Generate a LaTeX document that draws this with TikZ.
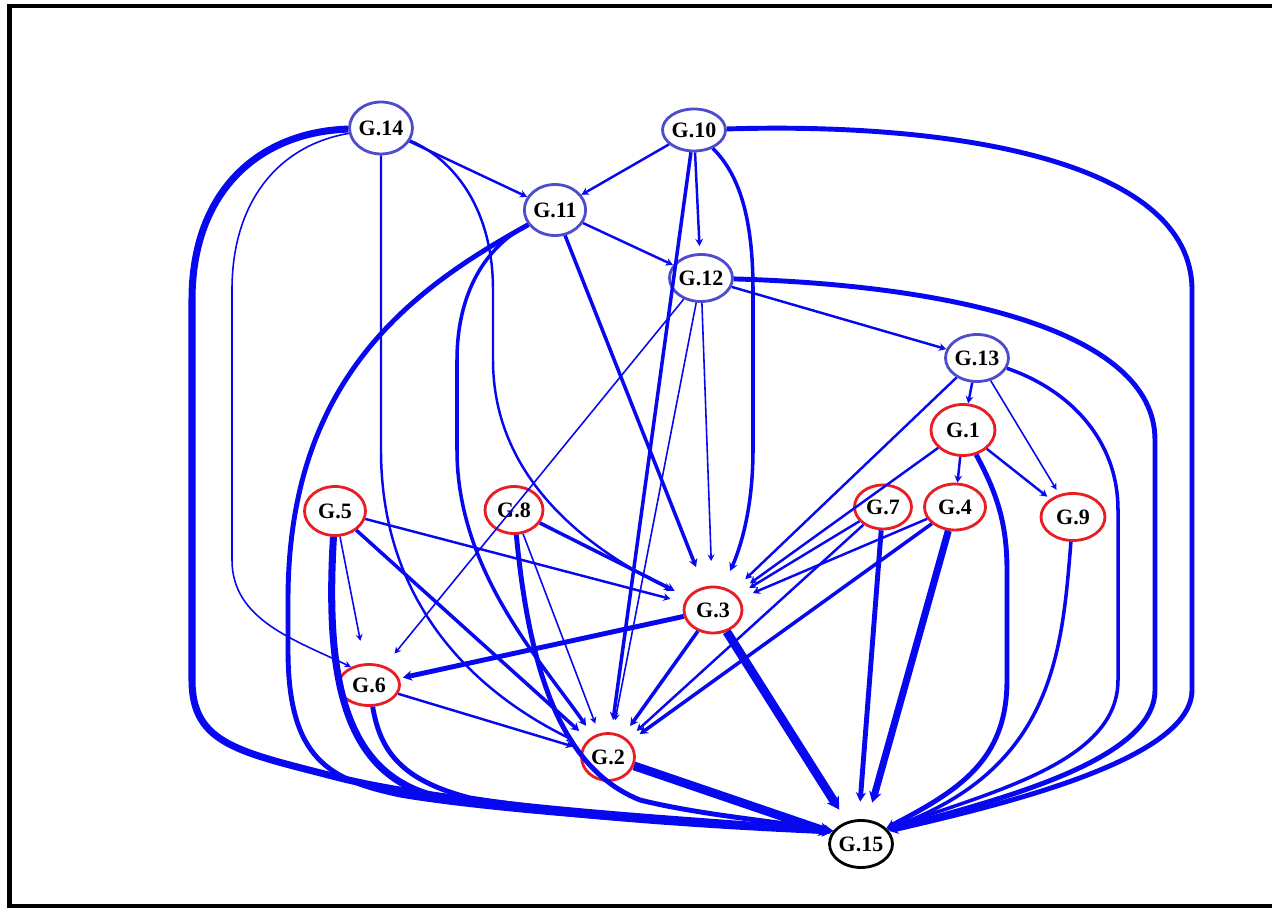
\documentclass[tikz,border=0pt]{standalone}
\usepackage{fontspec}
\setmainfont{Liberation Serif}
\usetikzlibrary{shapes.geometric,arrows.meta}
\definecolor{edgeblue}{RGB}{8,8,240}
\definecolor{slateblue}{RGB}{76,76,204}
\definecolor{genered}{RGB}{232,30,36}
\begin{document}
\begin{tikzpicture}[x=0.02cm,y=-0.02cm,
            gene/.style={ellipse,draw,line width=1.6pt,inner sep=0pt,font=\bfseries\fontsize{12.5}{14}\selectfont},
            upper/.style={gene,draw=slateblue},
            lower/.style={gene,draw=genered},
            sink/.style={gene,draw=black},
            link/.style={draw=edgeblue,-{Stealth[length=3pt 0.8,width=3pt 1]}},
            link1/.style={link,line width=0.9pt},
            link2/.style={link,line width=1.4pt},
            link3/.style={link,line width=2pt},
            link4/.style={link,line width=2.8pt},
            link5/.style={link,line width=4pt},
            link6/.style={link,line width=5pt}]
            \useasboundingbox (0,0) rectangle (1276,908);
            \draw [line width=2.6pt] (1272,6) -- (9.5,6) -- (9.5,906) -- (1272,906);

            % genes
            \node [upper,minimum width=1.1cm,minimum height=1.04cm] (g14) at (381,128) {G.14};
            \node [upper,minimum width=1.24cm,minimum height=0.84cm] (g10) at (694,130) {G.10};
            \node [upper,minimum width=1.08cm,minimum height=1.02cm] (g11) at (555,210) {G.11};
            \node [upper,minimum width=1.1cm,minimum height=0.94cm] (g12) at (701,278) {G.12};
            \node [upper,minimum width=1.16cm,minimum height=0.94cm] (g13) at (977,358) {G.13};
            \node [lower,minimum width=1.28cm,minimum height=1.02cm] (g1) at (963,430) {G.1};
            \node [lower,minimum width=1.22cm,minimum height=0.92cm] (g4) at (955,507) {G.4};
            \node [lower,minimum width=1.14cm,minimum height=0.88cm] (g7) at (883,507) {G.7};
            \node [lower,minimum width=1.28cm,minimum height=0.94cm] (g9) at (1073,517) {G.9};
            \node [lower,minimum width=1.22cm,minimum height=0.98cm] (g5) at (335,511) {G.5};
            \node [lower,minimum width=1.16cm,minimum height=0.94cm] (g8) at (514,510) {G.8};
            \node [lower,minimum width=1.16cm,minimum height=0.92cm] (g3) at (713,610) {G.3};
            \node [lower,minimum width=1.22cm,minimum height=0.82cm] (g6) at (369,685) {G.6};
            \node [lower,minimum width=1.06cm,minimum height=0.94cm] (g2) at (608,757) {G.2};
            \node [sink,minimum width=1.14cm,minimum height=0.94cm] (g15) at (861,844) {G.15};

            % G.14
            \draw [link5] (g14) .. controls (260,132) and (192,190) .. (192,300) -- (192,680)
                .. controls (192,745) and (240,752) .. (340,778) .. controls (450,805) and (650,818) .. (g15.155);
            \draw [link1] (g14) .. controls (280,145) and (232,200) .. (232,290) -- (232,560)
                .. controls (232,620) and (295,640) .. (g6.135);
            \draw [link2,shorten >=6pt] (g14) -- (381,450) .. controls (381,600) and (470,690) .. (g2);
            \draw [link2] (g14) -- (g11);
            \draw [link2,shorten >=10pt] (g14) .. controls (455,160) and (493,210) .. (493,290) -- (493,360)
                .. controls (493,480) and (590,550) .. (g3);

            % G.10
            \draw [link2] (g10) -- (g11);
            \draw [link2,shorten >=4pt] (g10) -- (g12);
            \draw [link3,shorten >=7pt] (g10) -- (g2);
            \draw [link3,shorten >=10pt] (g10) .. controls (740,175) and (753,220) .. (753,290) -- (753,450)
                .. controls (753,520) and (735,560) .. (g3);
            \draw [link4] (g10) .. controls (950,122) and (1192,160) .. (1192,290) -- (1192,690)
                .. controls (1192,760) and (1000,805) .. (g15.25);

            % G.11
            \draw [link2] (g11) -- (g12);
            \draw [link3,shorten >=12pt] (g11) -- (g3);
            \draw [link4] (g11) .. controls (410,290) and (288,380) .. (288,600) -- (288,650)
                .. controls (288,760) and (330,780) .. (400,795) .. controls (500,812) and (700,825) .. (g15.155);
            \draw [link3,shorten >=7pt] (g11) .. controls (480,250) and (457,300) .. (457,360) -- (457,450)
                .. controls (457,570) and (540,660) .. (g2);

            % G.12
            \draw [link1,shorten >=9pt] (g12) -- (g6);
            \draw [link1,shorten >=7pt] (g12) -- (g2);
            \draw [link1,shorten >=14pt] (g12) -- (g3);
            \draw [link2] (g12) -- (g13);
            \draw [link4] (g12) .. controls (950,285) and (1155,330) .. (1155,440) -- (1155,690)
                .. controls (1155,760) and (1000,800) .. (g15.28);

            % G.13
            \draw [link2] (g13) -- (g1);
            \draw [link1,shorten >=3pt] (g13) -- (g9);
            \draw [link2,shorten >=10pt] (g13) -- (g3);
            \draw [link3] (g13) .. controls (1070,390) and (1118,440) .. (1118,510) -- (1118,680)
                .. controls (1118,760) and (1000,790) .. (g15.30);

            % G.1
            \draw [link2] (g1) -- (g4);
            \draw [link2,shorten >=2pt] (g1) -- (g9);
            \draw [link2,shorten >=10pt] (g1) -- (g3);
            \draw [link4] (g1) .. controls (995,490) and (1007,520) .. (1007,570) -- (1007,680)
                .. controls (1007,760) and (960,790) .. (g15.32);

            % G.4, G.7, G.9
            \draw [link2,shorten >=8pt] (g4) -- (g3);
            \draw [link3,shorten >=7pt] (g4) -- (g2);
            \draw [link5,shorten >=10pt] (g4) -- (g15.75);
            \draw [link2,shorten >=8pt] (g7) -- (g3);
            \draw [link2,shorten >=7pt] (g7) -- (g2);
            \draw [link4,shorten >=10pt] (g7) -- (g15.95);
            \draw [link3] (g9) .. controls (1062,650) and (1055,770) .. (g15.30);

            % G.5, G.8
            \draw [link2,shorten >=8pt] (g5) -- (g3);
            \draw [link1,shorten >=13pt] (g5) -- (g6);
            \draw [link3,shorten >=7pt] (g5) -- (g2);
            \draw [link5] (g5) .. controls (325,680) and (345,770) .. (430,795)
                .. controls (550,815) and (700,825) .. (g15.155);
            \draw [link3,shorten >=8pt] (g8) -- (g3);
            \draw [link1,shorten >=6pt] (g8) -- (g2);
            \draw [link4] (g8) .. controls (530,680) and (565,770) .. (640,800)
                .. controls (700,815) and (780,822) .. (g15.155);

            % G.3, G.6, G.2
            \draw [link4,shorten >=2pt] (g3) -- (g6);
            \draw [link3,shorten >=7pt] (g3) -- (g2);
            \draw [link6,shorten >=8pt] (g3) -- (g15);
            \draw [link2,shorten >=5pt] (g6) -- (g2);
            \draw [link4] (g6) .. controls (380,750) and (400,780) .. (470,798)
                .. controls (580,815) and (720,825) .. (g15.155);
            \draw [link6] (g2) -- (g15.160);
\end{tikzpicture}
\end{document}
